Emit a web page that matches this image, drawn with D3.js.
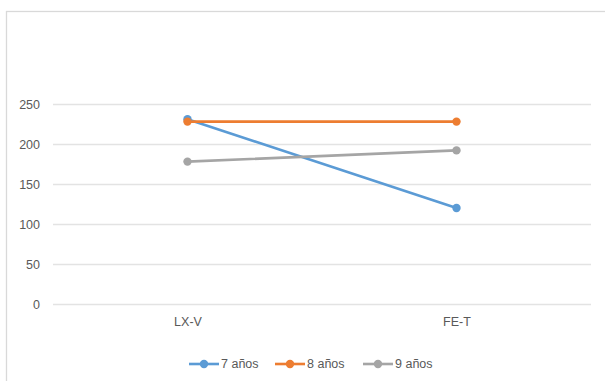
<!DOCTYPE html>
<html>
<head>
<meta charset="utf-8">
<script src="https://cdn.jsdelivr.net/npm/d3@7"></script>
<style>
  html, body { margin: 0; padding: 0; background: #fff; }
  svg { display: block; }
  text { font-family: "Liberation Sans", Arial, sans-serif; fill: #595959; }
</style>
</head>
<body>
<svg id="chart" width="605" height="381"></svg>
<script>
// Categories on the x axis
const categories = ["LX-V", "FE-T"];
// Series names and values per category
const seriesNames = ["7 años", "8 años", "9 años"];
const values7 = [231, 120];
const values8 = [228, 228];
const values9 = [178, 192];
const seriesColors = ["#5B9BD5", "#ED7D31", "#A5A5A5"];
// Y axis ticks
const yTicks = [0, 50, 100, 150, 200, 250];

const series = [values7, values8, values9].map((v, i) => ({
  name: seriesNames[i], color: seriesColors[i],
  points: categories.map((c, j) => ({ cat: c, value: v[j] }))
}));

const svg = d3.select("#chart");

// chart area frame
svg.append("rect")
  .attr("x", 6.5).attr("y", 11.5)
  .attr("width", 700).attr("height", 500)
  .attr("fill", "#fff").attr("stroke", "#d9d9d9").attr("stroke-width", 1.3);

const plot = { left: 53, right: 591, top: 104, bottom: 304 };

const x = d3.scalePoint().domain(categories)
  .range([plot.left, plot.right]).padding(0.5);
const y = d3.scaleLinear().domain([0, 250])
  .range([plot.bottom, plot.top]);

// gridlines
const yAxis = d3.axisLeft(y).tickValues(yTicks)
  .tickSize(-(plot.right - plot.left)).tickPadding(13);
const gy = svg.append("g")
  .attr("transform", `translate(${plot.left},0)`)
  .call(yAxis);
gy.select(".domain").remove();
gy.selectAll(".tick line").attr("stroke", "#e3e3e3").attr("stroke-width", 1.3);
gy.selectAll(".tick text").style("font-size", "12.5px").attr("fill", "#595959");

// category axis labels
const xAxis = d3.axisBottom(x).tickSize(0).tickPadding(13);
const gx = svg.append("g")
  .attr("transform", `translate(0,${plot.bottom})`)
  .call(xAxis);
gx.select(".domain").remove();
gx.selectAll(".tick text").style("font-size", "12.5px").attr("fill", "#595959");

// lines and markers
const line = d3.line().x(d => x(d.cat)).y(d => y(d.value));
const g = svg.append("g");
series.forEach(s => {
  g.append("path").datum(s.points)
    .attr("d", line).attr("fill", "none")
    .attr("stroke", s.color).attr("stroke-width", 2.6)
    .attr("stroke-linecap", "round");
});
series.forEach(s => {
  g.selectAll(null).data(s.points).enter().append("circle")
    .attr("cx", d => x(d.cat)).attr("cy", d => y(d.value))
    .attr("r", 4.2).attr("fill", s.color);
});

// legend
const legendY = 364;
const legendX = [189, 275, 363];
series.forEach((s, i) => {
  const lg = svg.append("g").attr("transform", `translate(${legendX[i]},${legendY})`);
  lg.append("line").attr("x1", 0).attr("x2", 30).attr("y1", 0).attr("y2", 0)
    .attr("stroke", s.color).attr("stroke-width", 2.6);
  lg.append("circle").attr("cx", 15).attr("cy", 0).attr("r", 4.2).attr("fill", s.color);
  lg.append("text").attr("x", 32).attr("y", 0).attr("dy", "0.35em")
    .style("font-size", "12.5px").text(s.name);
});
</script>
</body>
</html>
